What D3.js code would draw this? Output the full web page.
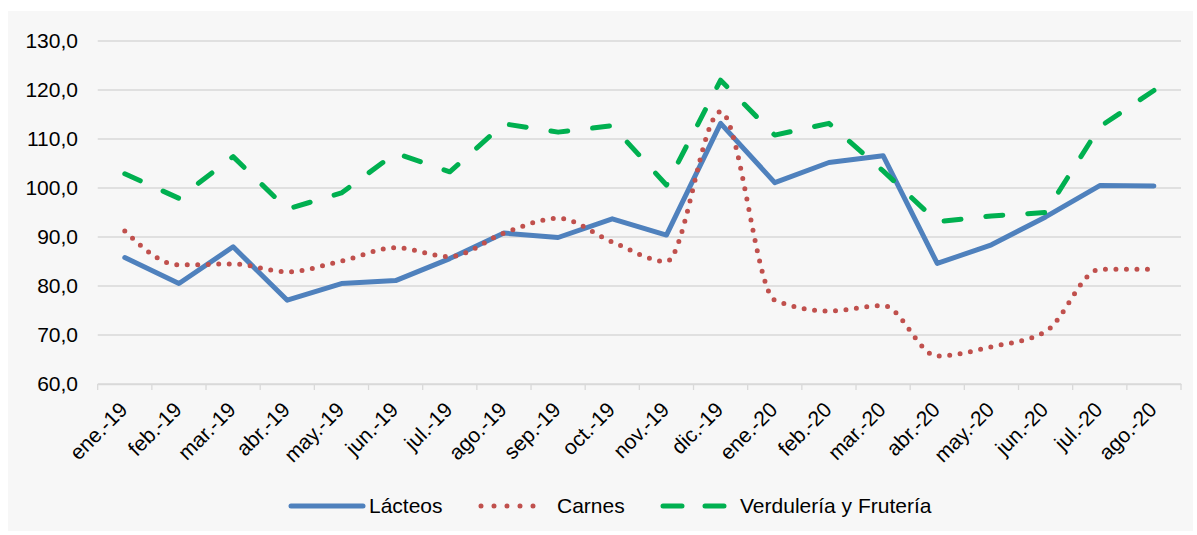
<!DOCTYPE html>
<html>
<head>
<meta charset="utf-8">
<script src="https://cdn.jsdelivr.net/npm/d3@7"></script>
<style>
  body { margin: 0; background: #ffffff; }
  text { font-family: "Liberation Sans", Arial, sans-serif; fill: #000; }
</style>
</head>
<body>
<div id="chart"></div>
<script>
const months = ["ene.-19", "feb.-19", "mar.-19", "abr.-19", "may.-19", "jun.-19", "jul.-19", "ago.-19", "sep.-19", "oct.-19",
                "nov.-19", "dic.-19", "ene.-20", "feb.-20", "mar.-20", "abr.-20", "may.-20", "jun.-20", "jul.-20", "ago.-20"]
const lacteos = [85.8, 80.5, 88.0, 77.1, 80.5, 81.1, 85.6, 90.8, 89.9, 93.7,
                 90.4, 113.2, 101.1, 105.2, 106.6, 84.6, 88.4, 94.1, 100.5, 100.4]
const carnes = [91.2, 84.3, 84.5, 82.9, 85.1, 87.8, 86.0, 90.8, 93.8, 89.0,
                85.0, 115.6, 77.1, 74.9, 76.0, 65.7, 67.6, 70.7, 83.4, 83.4]
const verduleria = [102.9, 97.9, 106.4, 95.7, 99.0, 107.1, 103.3, 113.1, 111.4, 112.7,
                    100.6, 122.0, 110.8, 113.2, 103.5, 93.1, 94.3, 95.0, 112.5, 119.9]
const yTicks = [60, 70, 80, 90, 100, 110, 120, 130]

const width  = 1197;
const height = 535;
const margin = {
    top:    41,
    bottom: 151,
    left:   97.7,
    right:  16
};

const series = [
    {name: "Lácteos", values: lacteos, color: "#4f81bd", dash: null, curve: d3.curveLinear},
    {name: "Carnes", values: carnes, color: "#c0504d", dash: "0 10.5", curve: d3.curveMonotoneX},
    {name: "Verdulería y Frutería", values: verduleria, color: "#00b050", dash: "17 25", curve: d3.curveLinear}
]

const svg = d3.select("#chart")
    .append("svg")
    .attr("width",  width)
    .attr("height", height)

// panel background
svg.append("rect")
    .attr("x", 8).attr("y", 11)
    .attr("width", 1185).attr("height", 520)
    .attr("fill", "#f7f7f7")

var x = d3.scaleBand().domain(months).range([margin.left, width - margin.right])
var y = d3.scaleLinear().domain([60, 130]).range([height - margin.bottom, margin.top])

// gridlines
svg.append("g").selectAll("line")
    .data(yTicks)
    .join("line")
        .attr("x1", margin.left)
        .attr("x2", width - margin.right)
        .attr("y1", d => y(d))
        .attr("y2", d => y(d))
        .attr("stroke", "#d9d9d9")
        .attr("stroke-width", 1.3)

// y labels
svg.append("g").selectAll("text")
    .data(yTicks)
    .join("text")
        .text(d => d3.format(".1f")(d).replace(".", ","))
        .attr("x", 78)
        .attr("y", d => y(d))
        .attr("dy", "0.35em")
        .attr("text-anchor", "end")
        .attr("font-size", 21)

// x axis ticks
const xAxis = d3.axisBottom(x).tickSize(0).tickFormat("")
const xAxisGroup = svg.append("g")
    .attr("transform", `translate(0, ${y(60)})`)
    .call(xAxis)
xAxisGroup.select(".domain").attr("stroke", "#d9d9d9").attr("stroke-width", 1.3)
xAxisGroup.selectAll(".tick").remove()

xAxisGroup.selectAll(".tk")
    .data(months.concat([null]))
    .join("line")
        .attr("class", "tk")
        .attr("x1", (d, i) => margin.left + i * x.bandwidth())
        .attr("x2", (d, i) => margin.left + i * x.bandwidth())
        .attr("y1", 0)
        .attr("y2", 6)
        .attr("stroke", "#d9d9d9")
        .attr("stroke-width", 1.3)

svg.append("g").selectAll("text")
    .data(months)
    .join("text")
        .text(d => d)
        .attr("text-anchor", "end")
        .attr("font-size", 21)
        .attr("transform", d => `translate(${x(d) + x.bandwidth() / 2 + 4}, 411) rotate(-45)`)

// lines
series.forEach(s => {
    const line = d3.line()
        .x((d, i) => x(months[i]) + x.bandwidth() / 2)
        .y(d => y(d))
        .curve(s.curve)

    svg.append("path")
        .datum(s.values)
        .attr("d", line)
        .attr("fill", "none")
        .attr("stroke", s.color)
        .attr("stroke-width", 5)
        .attr("stroke-linecap", "round")
        .attr("stroke-linejoin", "round")
        .attr("stroke-dasharray", s.dash)
})

// legend
const legendPos = [
    {x1: 291, x2: 363, tx: 369},
    {x1: 481, x2: 546, tx: 557},
    {x1: 663, x2: 728, tx: 740}
]
const legend = svg.append("g")
series.forEach((s, i) => {
    const p = legendPos[i]
    legend.append("line")
        .attr("x1", p.x1).attr("x2", p.x2)
        .attr("y1", 506).attr("y2", 506)
        .attr("stroke", s.color)
        .attr("stroke-width", 5)
        .attr("stroke-linecap", "round")
        .attr("stroke-dasharray", s.dash == null ? null : (i == 1 ? "0 13" : "19 23"))
    legend.append("text")
        .text(s.name)
        .attr("x", p.tx)
        .attr("y", 513)
        .attr("font-size", 21)
})
</script>
</body>
</html>
